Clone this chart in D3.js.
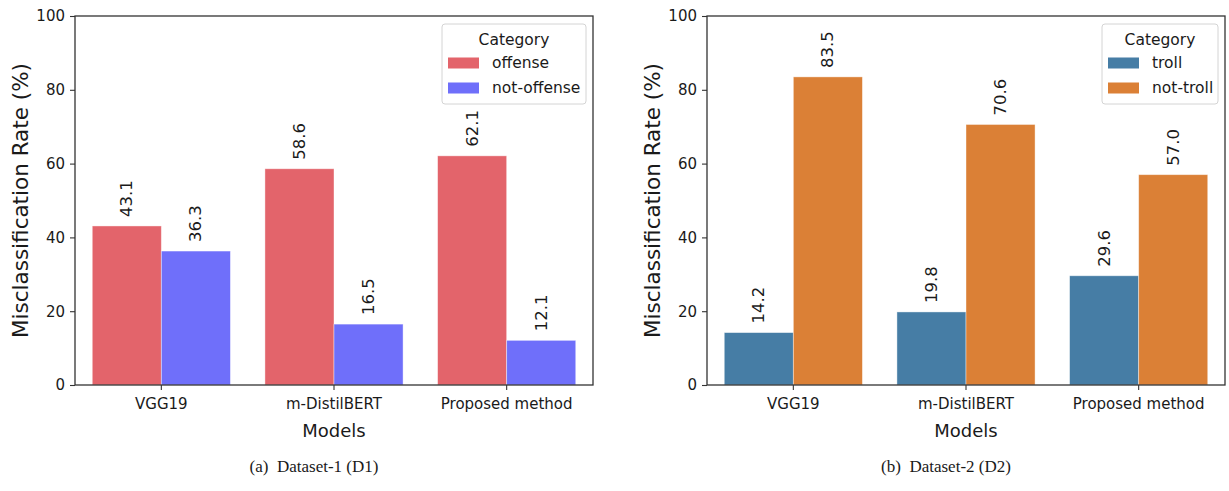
<!DOCTYPE html>
<html>
<head>
<meta charset="utf-8">
<script src="https://cdn.jsdelivr.net/npm/d3@7"></script>
<style>
  html, body { margin: 0; padding: 0; background: #fff; }
  svg text { font-family: "DejaVu Sans", sans-serif; fill: #1a1a1a; }
</style>
</head>
<body>
<svg id="chart" width="1229" height="491"></svg>
<script>
// Models on the x axis (shared by both panels)
const models = ["VGG19", "m-DistilBERT", "Proposed method"];

// Dataset-1 (D1)
const d1Categories = ["offense", "not-offense"];
const d1Offense = [43.1, 58.6, 62.1];
const d1NotOffense = [36.3, 16.5, 12.1];

// Dataset-2 (D2)
const d2Categories = ["troll", "not-troll"];
const d2Troll = [14.2, 19.8, 29.6];
const d2NotTroll = [83.5, 70.6, 57.0];

const yTicks = [0, 20, 40, 60, 80, 100];

const panels = [
  {
    left: 75, right: 593, categories: d1Categories,
    series: [d1Offense, d1NotOffense],
    colors: ["#E3646B", "#6F6FFA"],
    caption: "(a)\u2002Dataset-1 (D1)",
    legend: { x: 442, y: 24, w: 144, h: 80 }
  },
  {
    left: 707, right: 1225, categories: d2Categories,
    series: [d2Troll, d2NotTroll],
    colors: ["#467DA5", "#DB8036"],
    caption: "(b)\u2002Dataset-2 (D2)",
    legend: { x: 1102, y: 24, w: 116, h: 80 }
  }
];

const plotTop = 16, plotBottom = 385;
const svg = d3.select("#chart");

panels.forEach(p => {
  const g = svg.append("g");

  const x = d3.scaleBand().domain(models).range([p.left, p.right]).paddingInner(0).paddingOuter(0);
  const inner = d3.scaleBand().domain(p.categories).range([0, x.bandwidth() * 0.8]);
  const y = d3.scaleLinear().domain([0, 100]).range([plotBottom, plotTop]);

  // bars + value labels
  p.categories.forEach((cat, ci) => {
    const vals = p.series[ci];
    const grp = g.append("g");
    grp.selectAll("rect").data(models).join("rect")
      .attr("x", (m) => x(m) + x.bandwidth() * 0.1 + inner(cat))
      .attr("y", (m, i) => y(vals[i]))
      .attr("width", inner.bandwidth())
      .attr("height", (m, i) => y(0) - y(vals[i]))
      .attr("fill", p.colors[ci])
      .attr("stroke", "#ffffff")
      .attr("stroke-opacity", 0.5)
      .attr("stroke-width", 0.8);

    grp.selectAll("text").data(models).join("text")
      .attr("transform", (m, i) => {
        const cx = x(m) + x.bandwidth() * 0.1 + inner(cat) + inner.bandwidth() / 2;
        return `translate(${cx},${y(vals[i]) - 9}) rotate(-90)`;
      })
      .attr("text-anchor", "start")
      .attr("dominant-baseline", "central")
      .style("font-size", "16.5px")
      .text((m, i) => vals[i].toFixed(1));
  });

  // axes
  const yAxis = d3.axisLeft(y).tickValues(yTicks).tickSize(5).tickPadding(5);
  const ya = g.append("g").attr("transform", `translate(${p.left},0)`).call(yAxis);
  const xAxis = d3.axisBottom(x).tickSize(5).tickPadding(8);
  const xa = g.append("g").attr("transform", `translate(0,${plotBottom})`).call(xAxis);
  [ya, xa].forEach(a => {
    a.select(".domain").remove();
    a.selectAll("line").attr("stroke", "#333").attr("stroke-width", 1.1);
    a.selectAll("text").style("font-size", "15px").attr("fill", "#1a1a1a")
      .style("font-family", "'DejaVu Sans', sans-serif");
  });

  // frame
  g.append("rect")
    .attr("x", p.left).attr("y", plotTop)
    .attr("width", p.right - p.left).attr("height", plotBottom - plotTop)
    .attr("fill", "none").attr("stroke", "#333").attr("stroke-width", 1.3);

  // axis titles
  g.append("text")
    .attr("x", (p.left + p.right) / 2).attr("y", 437)
    .attr("text-anchor", "middle").style("font-size", "18px")
    .text("Models");
  g.append("text")
    .attr("transform", `translate(${p.left - 55},${(plotTop + plotBottom) / 2}) rotate(-90)`)
    .attr("text-anchor", "middle").attr("dominant-baseline", "central")
    .style("font-size", "21.5px")
    .text("Misclassification Rate (%)");

  // legend
  const L = p.legend;
  const lg = g.append("g");
  lg.append("rect")
    .attr("x", L.x).attr("y", L.y).attr("width", L.w).attr("height", L.h)
    .attr("rx", 3).attr("fill", "#fff").attr("fill-opacity", 0.8)
    .attr("stroke", "#d4d4d4").attr("stroke-width", 1);
  lg.append("text")
    .attr("x", L.x + L.w / 2).attr("y", L.y + 21)
    .attr("text-anchor", "middle").style("font-size", "15.5px")
    .text("Category");
  p.categories.forEach((cat, ci) => {
    const cy = L.y + 39 + ci * 25;
    lg.append("rect")
      .attr("x", L.x + 6).attr("y", cy - 5.5)
      .attr("width", 31).attr("height", 11)
      .attr("fill", p.colors[ci]);
    lg.append("text")
      .attr("x", L.x + 50).attr("y", cy)
      .attr("dominant-baseline", "central")
      .style("font-size", "15.5px")
      .text(cat);
  });

  // caption
  g.append("text")
    .attr("x", (p.left + p.right) / 2 - 20).attr("y", 472)
    .attr("text-anchor", "middle").style("font-size", "17px")
    .style("font-family", "'Liberation Serif', serif")
    .text(p.caption);
});
</script>
</body>
</html>
